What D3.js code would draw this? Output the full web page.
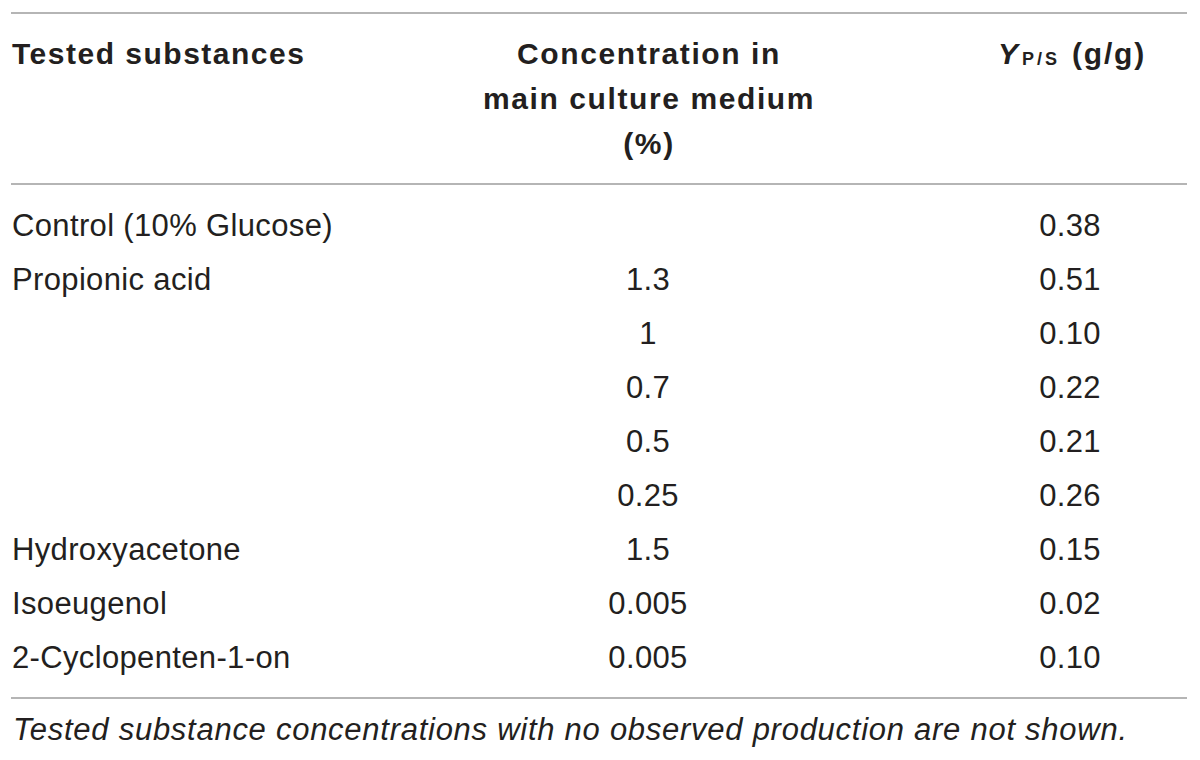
<!DOCTYPE html>
<html>
<head>
<meta charset="utf-8">
<script src="https://cdn.jsdelivr.net/npm/d3@7"></script>
<style>
  body { margin: 0; background: #fff; }
  svg { display: block; font-family: "Liberation Sans", Arial, sans-serif; }
</style>
</head>
<body>
<svg id="table"></svg>
<script>
// table contents
const substances = ["Control (10% Glucose)", "Propionic acid", "", "", "", "", "Hydroxyacetone", "Isoeugenol", "2-Cyclopenten-1-on"];
const concentrations = ["", "1.3", "1", "0.7", "0.5", "0.25", "1.5", "0.005", "0.005"];
const yields = ["0.38", "0.51", "0.10", "0.22", "0.21", "0.26", "0.15", "0.02", "0.10"];
const headerConc = ["Concentration in", "main culture medium", "(%)"];
const footnote = "Tested substance concentrations with no observed production are not shown.";

const svgWidth = 1200, svgHeight = 760;
const textColor = "#231f20", ruleColor = "#b5b5b5";

const svg = d3.select("#table")
    .attr("width", svgWidth)
    .attr("height", svgHeight);

const columns = ["substance", "conc", "yield"];
const x = d3.scaleOrdinal().domain(columns).range([12, 648, 1070]);
const anchor = d3.scaleOrdinal().domain(columns).range(["start", "middle", "middle"]);

const y = d3.scaleBand()
    .domain(d3.range(substances.length))
    .range([198, 684]);

// horizontal rules
const rules = [13, 184, 698];
svg.selectAll("line.rule")
    .data(rules)
    .join("line")
    .attr("class", "rule")
    .attr("x1", 11)
    .attr("x2", 1187)
    .attr("y1", d => d)
    .attr("y2", d => d)
    .attr("stroke", ruleColor)
    .attr("stroke-width", 2);

// header
const header = svg.append("g")
    .attr("font-weight", "bold")
    .attr("font-size", 30)
    .attr("fill", textColor);

header.append("text")
    .attr("x", x("substance"))
    .attr("y", 64)
    .attr("letter-spacing", 1.5)
    .attr("text-anchor", "start")
    .text("Tested substances");

header.selectAll("text.conc")
    .data(headerConc)
    .join("text")
    .attr("class", "conc")
    .attr("x", x("conc") + 1)
    .attr("y", (d, i) => 64 + i * 45)
    .attr("letter-spacing", 1.6)
    .attr("text-anchor", "middle")
    .text(d => d);

const yh = header.append("text")
    .attr("x", 998)
    .attr("y", 64)
    .attr("text-anchor", "start");
yh.append("tspan").attr("font-style", "italic").text("Y");
yh.append("tspan").attr("font-size", 18).attr("letter-spacing", 3)
    .attr("dx", 4).attr("dy", 1).text("P/S");
yh.append("tspan").attr("letter-spacing", 1.8)
    .attr("dx", 12).attr("dy", -1).text("(g/g)");

// body rows
const rows = d3.range(substances.length).map(i => ({
    substance: substances[i],
    conc: concentrations[i],
    yield: yields[i],
    i: i
}));

const body = svg.append("g")
    .attr("font-size", 31)
    .attr("letter-spacing", 0.35)
    .attr("fill", textColor);

const row = body.selectAll("g.row")
    .data(rows)
    .join("g")
    .attr("class", "row")
    .attr("transform", d => "translate(0," + (y(d.i) + y.bandwidth() / 2 + 11) + ")");

row.selectAll("text")
    .data(d => columns.map(c => ({ col: c, value: d[c] })))
    .join("text")
    .attr("x", d => x(d.col))
    .attr("text-anchor", d => anchor(d.col))
    .text(d => d.value);

// footnote
svg.append("text")
    .attr("x", 13)
    .attr("y", 740)
    .attr("font-size", 31)
    .attr("font-style", "italic")
    .attr("fill", textColor)
    .attr("textLength", 1114)
    .attr("lengthAdjust", "spacing")
    .text(footnote);
</script>
</body>
</html>
